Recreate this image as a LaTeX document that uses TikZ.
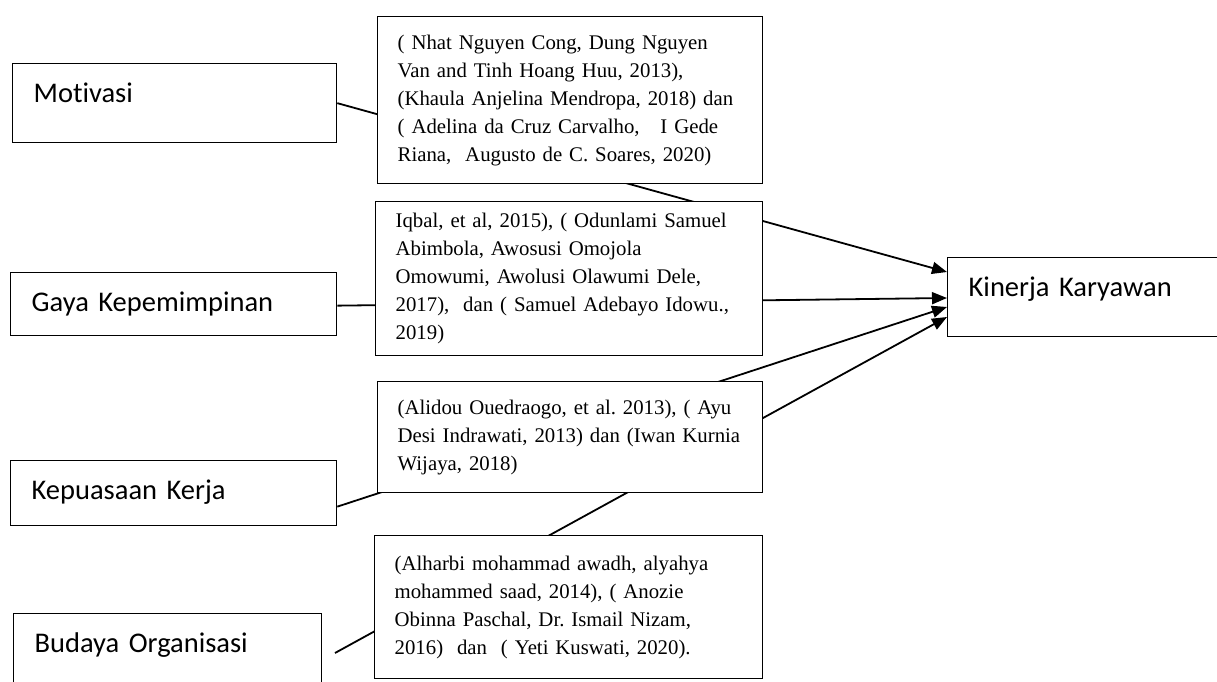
\documentclass[tikz,border=0pt]{standalone}
\usepackage{fontspec}
\setmainfont{Liberation Serif}
\newfontfamily\varfont[Ligatures=NoCommon]{Carlito}
\usetikzlibrary{arrows.meta}

\begin{document}
\begin{tikzpicture}[x=1pt, y=-1pt,
    varbox/.style={draw, line width=1.3pt, anchor=north west, inner xsep=21pt, inner ysep=0pt,
        text height=38.5pt, align=left, font=\varfont\fontsize{28.5}{32}\selectfont},
    refbox/.style={draw, fill=white, line width=1.3pt, anchor=north west, inner xsep=20pt,
        inner ysep=2pt, align=left, font=\fontsize{20.8}{28}\selectfont},
    link/.style={line width=1.8pt, -{Triangle[length=15pt,width=12pt]}}]
    \useasboundingbox (0,0) rectangle (1217,682);
    \clip (0,0) rectangle (1217,682);

    % Variables
    \node[varbox, text width=282pt, text depth=40.5pt] (mot) at (12,63) {Motivasi};
    \node[varbox, text width=284pt, text depth=24.5pt] (gaya) at (10,272) {Gaya Kepemimpinan};
    \node[varbox, text width=284pt, text depth=26.5pt] (kep) at (10,460) {Kepuasaan Kerja};
    \node[varbox, text width=266pt, text depth=40.5pt] (bud) at (13,613) {Budaya Organisasi};
    \node[varbox, text width=248pt, text depth=40.5pt] (kin) at (947,257) {Kinerja Karyawan};
    \coordinate (bud-out) at (335,653);

    % Arrows to Kinerja Karyawan
    \draw[link] (mot.east) -- ([yshift=-15pt]kin.north west);
    \draw[link] ([yshift=-1.5pt]gaya.east) -- ([yshift=-41pt]kin.north west);
    \draw[link] ([yshift=-13.5pt]kep.east) -- ([yshift=-50pt]kin.north west);
    \draw[link] (bud-out) -- ([yshift=-60pt]kin.north west);

    % References
    \node[refbox, text width=345pt, minimum height=167pt] (ref-mot) at (377,16)
        {( Nhat Nguyen Cong, Dung Nguyen\\
         Van and Tinh Hoang Huu, 2013),\\
         (Khaula Anjelina Mendropa, 2018) dan\\
         ( Adelina da Cruz Carvalho,\ \ \ I Gede\\
         Riana,\ \ Augusto de C.\ Soares, 2020)};
    \node[refbox, text width=347pt, minimum height=154pt] (ref-gaya) at (375,201)
        {Iqbal, et al, 2015), ( Odunlami Samuel\\
         Abimbola, Awosusi Omojola\\
         Omowumi, Awolusi Olawumi Dele,\\
         2017),\ \ dan ( Samuel Adebayo Idowu.,\\
         2019)};
    \node[refbox, text width=345pt, minimum height=111pt] (ref-kep) at (377,381)
        {(Alidou Ouedraogo, et al.\ 2013), ( Ayu\\
         Desi Indrawati, 2013) dan (Iwan Kurnia\\
         Wijaya, 2018)};
    \node[refbox, text width=348pt, minimum height=143pt] (ref-bud) at (374,535)
        {(Alharbi mohammad awadh, alyahya\\
         mohammed saad, 2014), ( Anozie\\
         Obinna Paschal, Dr.\ Ismail Nizam,\\
         2016)\ \ dan\ \ ( Yeti Kuswati, 2020).};

\end{tikzpicture}
\end{document}
